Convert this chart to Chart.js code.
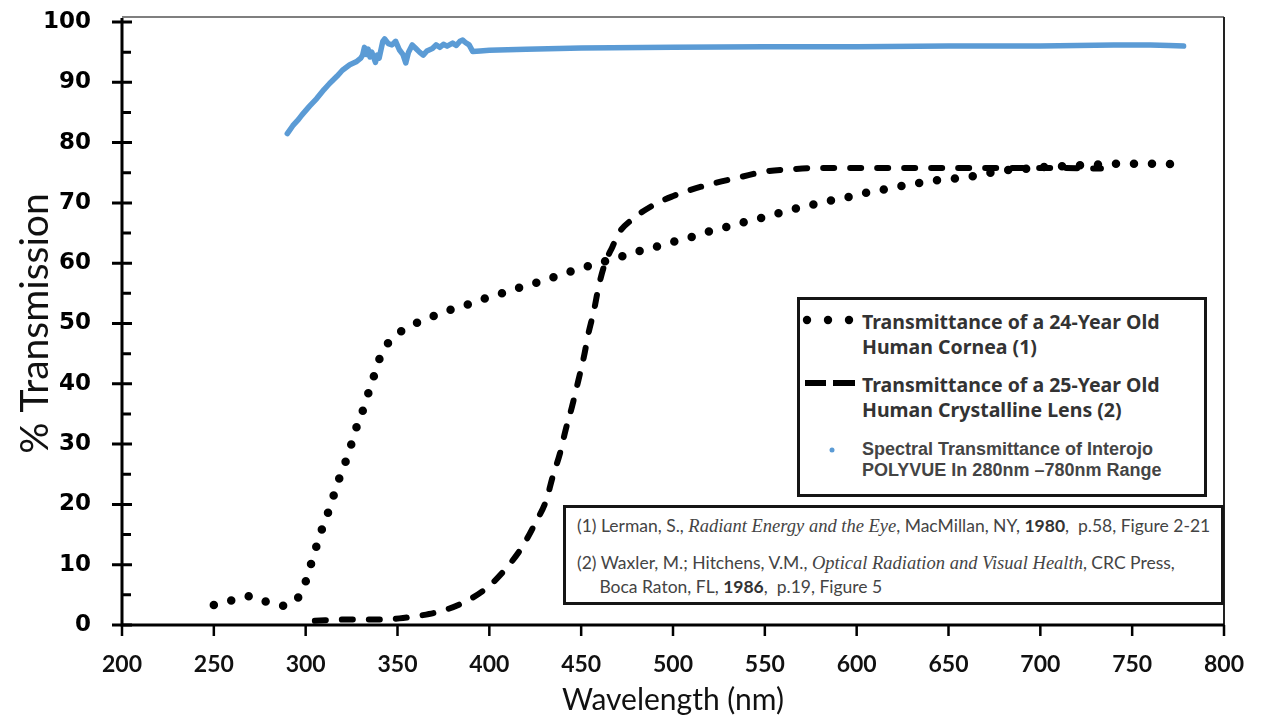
<!DOCTYPE html>
<html lang="en">
<head>
<meta charset="UTF-8">
<title>% Transmission vs Wavelength</title>
<style>
  * { margin: 0; padding: 0; box-sizing: border-box; }
  body { width: 1261px; height: 719px; background: #fff; overflow: hidden; position: relative; }
  #chart { position: absolute; left: 0; top: 0; }
  .legend {
    position: absolute; left: 797px; top: 297px; width: 410px; height: 200px;
    border: 3px solid #151515; background: #fff; color: #333;
    font-family: 'Noto Sans', 'DejaVu Sans', sans-serif; font-weight: 700;
  }
  .legend svg { position: absolute; left: 0; top: 0; }
  .legend .item { position: absolute; left: 62px; font-size: 19.5px; line-height: 25px; white-space: nowrap; }
  .legend .item.small {
    font-family: 'Liberation Sans', Arial, sans-serif; font-size: 18px; line-height: 21px; color: #444;
  }
  .refs {
    position: absolute; left: 563px; top: 505px; width: 661px; height: 100px;
    border: 3px solid #151515; background: #fff; color: #444;
    font-family: Lato, 'Open Sans', sans-serif; font-size: 17.5px; white-space: nowrap;
  }
  .refs p { position: absolute; left: 11px; }
  .refs i { font-family: 'Liberation Serif', serif; font-size: 18.5px; }
  .refs b { color: #333; }
</style>
</head>
<body>
<canvas id="chart" width="1261" height="719"></canvas>

<div class="legend">
  <svg width="404" height="194">
    <circle cx="7" cy="20" r="4.2" fill="#000"/>
    <circle cx="28" cy="20" r="4.2" fill="#000"/>
    <circle cx="49" cy="20" r="4.2" fill="#000"/>
    <line x1="5" y1="83" x2="26" y2="83" stroke="#000" stroke-width="6" stroke-linecap="butt"/>
    <line x1="33" y1="83" x2="55" y2="83" stroke="#000" stroke-width="6" stroke-linecap="butt"/>
    <circle cx="32" cy="150" r="2.5" fill="#5b9bd5"/>
  </svg>
  <div class="item" style="top:9px">Transmittance of a 24-Year Old<br>Human Cornea (1)</div>
  <div class="item" style="top:72px">Transmittance of a 25-Year Old<br>Human Crystalline Lens (2)</div>
  <div class="item small" style="top:139px">Spectral Transmittance of Interojo<br>POLYVUE In 280nm –780nm Range</div>
</div>

<div class="refs">
  <p style="top:6px; line-height:23px">(1) Lerman, S., <i>Radiant Energy and the Eye</i>, MacMillan, NY, <b>1980</b>, &nbsp;p.58, Figure 2-21</p>
  <p style="top:43px; line-height:23px">(2) Waxler, M.; Hitchens, V.M., <i>Optical Radiation and Visual Health</i>, CRC Press,<br>&nbsp;&nbsp;&nbsp;&nbsp;&nbsp;Boca Raton, FL, <b>1986</b>, &nbsp;p.19, Figure 5</p>
</div>

<script src="https://cdn.jsdelivr.net/npm/chart.js@4.4.0/dist/chart.umd.min.js"></script>
<script>
// 24-year-old cornea (dotted)
const corneaX = [250, 260, 270, 279, 288.5, 296, 300, 303, 306, 309, 312.5, 315.5, 318.5, 322, 325, 328,
  331.5, 334.5, 337.5, 340.5, 345.5, 353, 362, 371, 380, 390, 399, 408, 418, 427, 437, 446, 456, 465,
  474, 484, 494, 503, 513, 522, 532, 541, 551, 560, 570, 579, 589, 599, 608, 618, 628, 638, 648, 658,
  667, 678, 690, 700, 712, 725, 735, 745, 755, 765, 775, 780];
const corneaY = [3.3, 4.1, 4.8, 3.8, 3.2, 4.6, 7.2, 10.2, 13.2, 16, 18.9, 21.7, 24.5, 27.3, 30.1, 33.1,
  35.9, 38.8, 41.6, 44.4, 47, 48.9, 50.3, 51.4, 52.4, 53.3, 54.3, 55.1, 56.1, 56.9, 57.9, 58.8, 59.7, 60.5,
  61.3, 62.2, 63, 63.8, 64.6, 65.5, 66.2, 67, 67.7, 68.5, 69.3, 69.9, 70.6, 71.2, 71.9, 72.4, 73, 73.5, 73.9, 74.2,
  74.6, 75.3, 75.6, 75.9, 76.1, 76.3, 76.4, 76.5, 76.5, 76.5, 76.4, 76.4];

// 25-year-old crystalline lens (dashed)
const lensX = [305, 322, 336, 351, 363, 376, 389, 400, 410, 418, 425, 431, 434.5, 438.5, 441.5, 445,
  448.5, 451.5, 454, 457, 459.5, 463, 467, 470.5, 477.5, 488, 499, 510, 523, 537, 550, 565, 580, 600,
  650, 700, 733];
const lensY = [0.7, 0.9, 0.9, 1.1, 1.6, 2.5, 4.2, 6.5, 9.7, 13, 16.9, 20.7, 24.6, 28.5, 32.3, 36.2,
  40.6, 44.5, 48.4, 52.2, 56.1, 60, 62.7, 65, 67.2, 69.4, 71, 72.2, 73.3, 74.3, 75.2, 75.6, 75.8, 75.8,
  75.8, 75.8, 75.7];

// Interojo POLYVUE (blue)
const polyvueX = [290, 293, 296, 298, 302, 306, 310, 313, 317, 320, 324, 327.5, 330, 331, 332, 333, 334,
  335, 336, 338, 339, 340, 342, 343, 345, 347, 349, 351, 353, 354.5, 356, 358, 360, 362, 364, 366, 369,
  371, 373, 375, 377, 380, 382, 384, 385.5, 387, 389, 391, 395, 400, 420, 450, 500, 550, 600, 650, 700,
  720, 740, 760, 770, 778];
const polyvueY = [81.5, 82.8, 83.8, 84.6, 86, 87.3, 88.8, 89.8, 91, 92, 92.9, 93.4, 94, 94.5, 95.8, 94.6, 95.5,
  94.2, 95, 93.3, 94.5, 94, 96.8, 97.2, 96.4, 96.2, 96.8, 95.4, 94.6, 93.2, 95, 96.2, 95.6, 95, 94.5, 95.2, 95.6,
  96.2, 95.8, 96.3, 96, 96.5, 96.1, 96.8, 97, 96.6, 96.2, 95.1, 95.2, 95.3, 95.5, 95.7, 95.8, 95.9, 95.9, 96, 96,
  96.1, 96.2, 96.2, 96.1, 96];

const xTicks = [200, 250, 300, 350, 400, 450, 500, 550, 600, 650, 700, 750, 800];
const yTicks = [0, 10, 20, 30, 40, 50, 60, 70, 80, 90, 100];

const pts = (xs, ys) => xs.map((x, i) => ({ x: x, y: ys[i] }));

// axis lines, cross ticks and the frame round the plot
const axesFrame = {
  id: 'axesFrame',
  afterDraw(chart) {
    const { ctx, chartArea: a, scales: { x, y } } = chart;
    ctx.save();
    ctx.lineCap = 'butt';
    ctx.strokeStyle = '#555';
    ctx.lineWidth = 1.5;
    ctx.beginPath(); ctx.moveTo(a.left, a.top - 5); ctx.lineTo(a.right, a.top - 5); ctx.stroke();
    ctx.strokeStyle = '#222';
    ctx.lineWidth = 2;
    ctx.beginPath(); ctx.moveTo(a.right, a.top - 5); ctx.lineTo(a.right, a.bottom); ctx.stroke();

    ctx.strokeStyle = '#000';
    ctx.lineWidth = 3;
    ctx.beginPath();
    ctx.moveTo(a.left, a.top - 4); ctx.lineTo(a.left, a.bottom + 1.5);
    ctx.moveTo(a.left - 1.5, a.bottom); ctx.lineTo(a.right, a.bottom);
    ctx.stroke();

    ctx.lineWidth = 3;
    ctx.beginPath();
    yTicks.forEach(v => {
      const py = y.getPixelForValue(v);
      ctx.moveTo(a.left - 10, py); ctx.lineTo(a.left + 10, py);
    });
    for (let v = 5; v < 100; v += 10) {
      const py = y.getPixelForValue(v);
      ctx.moveTo(a.left, py); ctx.lineTo(a.left + 9, py);
    }
    ctx.stroke();

    ctx.lineWidth = 2.5;
    ctx.beginPath();
    xTicks.forEach(v => {
      const px = x.getPixelForValue(v);
      ctx.moveTo(px, a.bottom); ctx.lineTo(px, a.bottom + 11);
    });
    ctx.stroke();
    ctx.restore();
  }
};

function draw() {
  new Chart(document.getElementById('chart'), {
    type: 'line',
    data: {
      datasets: [
        {
          label: 'Transmittance of a 24-Year Old Human Cornea (1)',
          data: pts(corneaX, corneaY),
          borderColor: '#000',
          borderWidth: 8.5,
          borderDash: [0, 18],
          borderCapStyle: 'round',
          cubicInterpolationMode: 'monotone',
          pointRadius: 0
        },
        {
          label: 'Transmittance of a 25-Year Old Human Crystalline Lens (2)',
          data: pts(lensX, lensY),
          borderColor: '#000',
          borderWidth: 6,
          borderDash: [11, 16],
          borderCapStyle: 'round',
          cubicInterpolationMode: 'monotone',
          pointRadius: 0
        },
        {
          label: 'Spectral Transmittance of Interojo POLYVUE In 280nm -780nm Range',
          data: pts(polyvueX, polyvueY),
          borderColor: '#5b9bd5',
          borderWidth: 5.5,
          borderJoinStyle: 'round',
          borderCapStyle: 'round',
          tension: 0,
          pointRadius: 0
        }
      ]
    },
    options: {
      responsive: false,
      animation: false,
      devicePixelRatio: 1,
      layout: { padding: { top: 22, right: 37, left: 0, bottom: 0 } },
      plugins: { legend: { display: false }, tooltip: { enabled: false } },
      scales: {
        x: {
          type: 'linear',
          min: 200, max: 800,
          afterFit: s => { s.height = 94; s.paddingLeft = 0; s.paddingRight = 0; },
          afterBuildTicks: s => { s.ticks = xTicks.map(v => ({ value: v })); },
          grid: { display: false, drawTicks: false },
          border: { display: false },
          ticks: {
            padding: 26,
            color: '#111',
            font: { family: 'Lato, "Open Sans", sans-serif', size: 23, weight: 'bold' }
          },
          title: {
            display: true,
            text: 'Wavelength (nm)',
            color: '#111',
            padding: { top: 1, bottom: 1 },
            font: { family: 'Lato, "Open Sans", sans-serif', size: 30 }
          }
        },
        y: {
          min: 0, max: 100,
          afterFit: s => { s.width = 122; s.paddingTop = 0; s.paddingBottom = 0; },
          afterBuildTicks: s => { s.ticks = yTicks.map(v => ({ value: v })); },
          grid: { display: false, drawTicks: false },
          border: { display: false },
          ticks: {
            padding: 31,
            color: '#000',
            font: { family: '"DejaVu Sans", Verdana, sans-serif', size: 23, weight: 'bold' }
          },
          title: {
            display: true,
            text: '% Transmission',
            color: '#111',
            padding: { top: 12, bottom: 12 },
            font: { family: 'Lato, "Open Sans", sans-serif', size: 39 }
          }
        }
      }
    },
    plugins: [axesFrame]
  });
}

if (document.fonts && document.fonts.load) {
  Promise.all([
    document.fonts.load('bold 23px "DejaVu Sans"'),
    document.fonts.load('30px Lato'),
    document.fonts.load('bold 23px Lato')
  ]).then(draw, draw);
} else {
  draw();
}
</script>
</body>
</html>
